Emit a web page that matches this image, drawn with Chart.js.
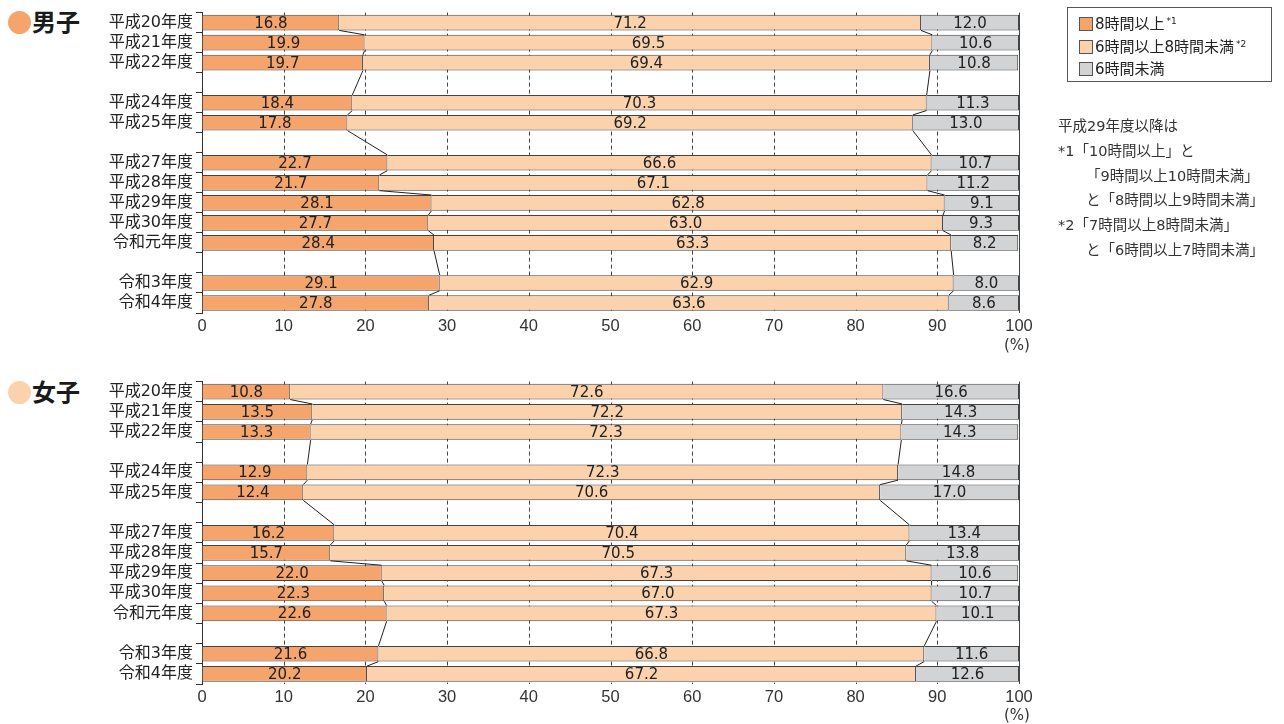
<!DOCTYPE html>
<html lang="ja">
<head>
<meta charset="UTF-8">
<title>睡眠時間</title>
<script src="https://cdn.jsdelivr.net/npm/chart.js"></script>
<style>
    body { margin: 0; background: #fff; font-family: "DejaVu Sans", "Noto Sans CJK JP", sans-serif; color: #222; }
    .wrap { position: relative; width: 1284px; height: 724px; }
    canvas { position: absolute; }
    .title { position: absolute; left: 8px; font-family: "Noto Sans CJK JP", sans-serif; font-size: 24px; font-weight: bold; line-height: 26px; color: #1a1a1a; }
    .title i { display: inline-block; width: 23px; height: 23px; border-radius: 50%; vertical-align: -3px; margin-right: 1px; }
    .pct { position: absolute; left: 1004px; font-size: 15px; color: #333; }
    .legend { position: absolute; left: 1067px; top: 7px; width: 205px; height: 75px; border: 1px solid #555; box-sizing: border-box; font-size: 15px; }
    .legend div { position: absolute; left: 11px; height: 20px; line-height: 20px; white-space: nowrap; }
    .legend b { display: inline-block; width: 14px; height: 14px; border: 1px solid #555; box-sizing: border-box; vertical-align: -2px; margin-right: 2px; }
    .legend sup { font-size: 9px; vertical-align: 5px; margin-left: 2px; line-height: 0; }
    .note { position: absolute; left: 1058px; top: 114px; font-size: 14.5px; line-height: 24.8px; white-space: nowrap; color: #333; }
    .note .ind { padding-left: 28px; }
</style>
</head>
<body>
<div class="wrap">
    <div class="title" style="top:8px"><i style="background:#F5A46C"></i>男子</div>
    <div class="title" style="top:378px"><i style="background:#FCD2AC"></i>女子</div>

    <canvas id="boysChart" width="960" height="343" style="left:100px; top:0px"></canvas>
    <canvas id="girlsChart" width="960" height="345" style="left:100px; top:369px"></canvas>

    <div class="pct" style="top:336px">(%)</div>
    <div class="pct" style="top:706px">(%)</div>

    <div class="legend">
        <div style="top:6px"><b style="background:#F5A46C"></b>8時間以上<sup>*1</sup></div>
        <div style="top:29px"><b style="background:#FCD2AC"></b>6時間以上8時間未満<sup>*2</sup></div>
        <div style="top:51px"><b style="background:#D2D3D5"></b>6時間未満</div>
    </div>

    <div class="note">
        <div>平成29年度以降は</div>
        <div>*1「10時間以上」と</div>
        <div class="ind">「9時間以上10時間未満」</div>
        <div class="ind">と「8時間以上9時間未満」</div>
        <div>*2「7時間以上8時間未満」</div>
        <div class="ind">と「6時間以上7時間未満」</div>
    </div>
</div>

<script>
    // categories ('' = year with no survey)
    const years = ['平成20年度', '平成21年度', '平成22年度', '', '平成24年度', '平成25年度', '',
        '平成27年度', '平成28年度', '平成29年度', '平成30年度', '令和元年度', '', '令和3年度', '令和4年度'];
    const seriesNames = ['8時間以上', '6時間以上8時間未満', '6時間未満'];
    const xTicks = [0, 10, 20, 30, 40, 50, 60, 70, 80, 90, 100];

    // 男子
    const boysOver8 = [16.8, 19.9, 19.7, null, 18.4, 17.8, null, 22.7, 21.7, 28.1, 27.7, 28.4, null, 29.1, 27.8];
    const boys6to8  = [71.2, 69.5, 69.4, null, 70.3, 69.2, null, 66.6, 67.1, 62.8, 63.0, 63.3, null, 62.9, 63.6];
    const boysUnder6 = [12.0, 10.6, 10.8, null, 11.3, 13.0, null, 10.7, 11.2, 9.1, 9.3, 8.2, null, 8.0, 8.6];

    // 女子
    const girlsOver8 = [10.8, 13.5, 13.3, null, 12.9, 12.4, null, 16.2, 15.7, 22.0, 22.3, 22.6, null, 21.6, 20.2];
    const girls6to8  = [72.6, 72.2, 72.3, null, 72.3, 70.6, null, 70.4, 70.5, 67.3, 67.0, 67.3, null, 66.8, 67.2];
    const girlsUnder6 = [16.6, 14.3, 14.3, null, 14.8, 17.0, null, 13.4, 13.8, 10.6, 10.7, 10.1, null, 11.6, 12.6];

    const colors = ['#F5A46C', '#FCD2AC', '#D2D3D5'];

    // dashed grid drawn under the bars
    const dashGrid = {
        id: 'dashGrid',
        beforeDatasetsDraw(chart) {
            const ctx = chart.ctx, x = chart.scales.x, a = chart.chartArea;
            ctx.save();
            ctx.strokeStyle = '#444';
            ctx.lineWidth = 1;
            ctx.setLineDash([4, 3]);
            xTicks.slice(1, -1).forEach(v => {
                const px = Math.round(x.getPixelForValue(v)) + 0.5;
                ctx.beginPath();
                ctx.moveTo(px, a.top);
                ctx.lineTo(px, a.bottom);
                ctx.stroke();
            });
            ctx.restore();
        }
    };

    // value labels + connecting lines between bars + right frame
    const barExtras = {
        id: 'barExtras',
        afterDatasetsDraw(chart) {
            const ctx = chart.ctx;
            const x = chart.scales.x;
            const area = chart.chartArea;
            const m0 = chart.getDatasetMeta(0);
            const d0 = chart.data.datasets[0].data;
            const d1 = chart.data.datasets[1].data;
            ctx.save();

            ctx.strokeStyle = '#444';
            ctx.lineWidth = 1;
            ctx.beginPath();
            ctx.moveTo(Math.round(area.right) + 0.5, area.top);
            ctx.lineTo(Math.round(area.right) + 0.5, area.bottom);
            ctx.stroke();

            ctx.strokeStyle = '#222';
            let prev = -1;
            for (let i = 0; i < d0.length; i++) {
                if (d0[i] == null) continue;
                if (prev >= 0) {
                    const a = m0.data[prev], b = m0.data[i];
                    const yA = a.y + a.height / 2, yB = b.y - b.height / 2;
                    [[d0[prev], d0[i]], [d0[prev] + d1[prev], d0[i] + d1[i]]].forEach(([v1, v2]) => {
                        ctx.beginPath();
                        ctx.moveTo(x.getPixelForValue(v1), yA);
                        ctx.lineTo(x.getPixelForValue(v2), yB);
                        ctx.stroke();
                    });
                }
                prev = i;
            }

            ctx.fillStyle = '#222';
            ctx.font = '15px "DejaVu Sans", sans-serif';
            ctx.textAlign = 'center';
            ctx.textBaseline = 'middle';
            chart.data.datasets.forEach((ds, di) => {
                chart.getDatasetMeta(di).data.forEach((bar, i) => {
                    if (ds.data[i] == null) return;
                    ctx.fillText(ds.data[i].toFixed(1), (bar.x + bar.base) / 2, bar.y + 1);
                });
            });
            ctx.restore();
        }
    };

    function makeChart(id, series) {
        new Chart(document.getElementById(id), {
            type: 'bar',
            data: {
                labels: years,
                datasets: series.map((s, i) => ({
                    label: seriesNames[i],
                    data: s,
                    backgroundColor: colors[i],
                    borderColor: '#444',
                    borderWidth: 1,
                    barPercentage: 0.78,
                    categoryPercentage: 1
                }))
            },
            options: {
                indexAxis: 'y',
                responsive: false,
                animation: false,
                devicePixelRatio: 1,
                layout: { padding: { top: 7, right: 41, left: 0, bottom: 0 } },
                plugins: { legend: { display: false }, tooltip: { enabled: false } },
                scales: {
                    x: {
                        stacked: true,
                        min: 0, max: 100,
                        afterBuildTicks: s => { s.ticks = xTicks.map(v => ({ value: v })); },
                        afterFit: s => { s.height = 30; },
                        border: { display: false },
                        grid: { drawOnChartArea: false, drawTicks: false },
                        ticks: { padding: 4, color: '#333', font: { family: '"Liberation Sans", Arial, sans-serif', size: 16.5 } }
                    },
                    y: {
                        stacked: true,
                        afterFit: s => { s.width = 102; },
                        border: { color: '#333', width: 1 },
                        grid: { offset: true, drawOnChartArea: false, tickLength: 6, color: '#333' },
                        ticks: { padding: 3, color: '#222', autoSkip: false, font: { family: '"DejaVu Sans", "Noto Sans CJK JP", sans-serif', size: 16 } }
                    }
                }
            },
            plugins: [dashGrid, barExtras]
        });
    }

    makeChart('boysChart', [boysOver8, boys6to8, boysUnder6]);
    makeChart('girlsChart', [girlsOver8, girls6to8, girlsUnder6]);
</script>
</body>
</html>
